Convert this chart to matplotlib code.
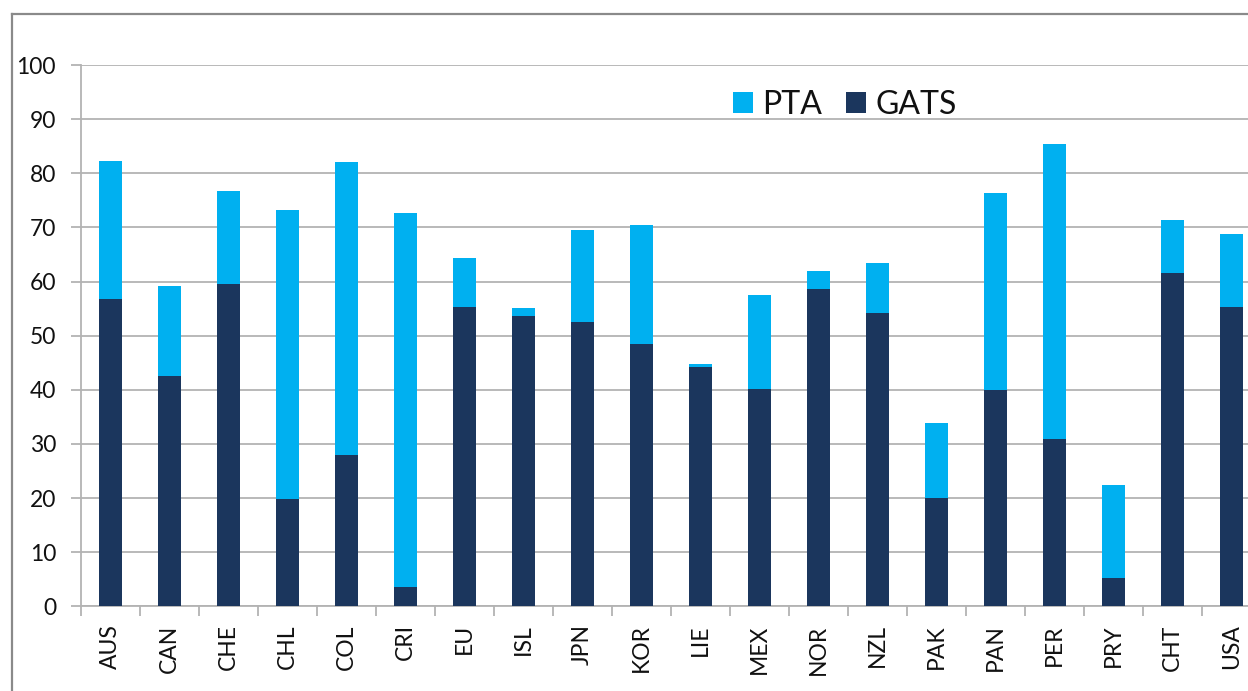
import matplotlib
matplotlib.use("Agg")
import matplotlib.pyplot as plt
from matplotlib.lines import Line2D
import numpy as np

countries = ["AUS", "CAN", "CHE", "CHL", "COL", "CRI", "EU", "ISL", "JPN", "KOR",
             "LIE", "MEX", "NOR", "NZL", "PAK", "PAN", "PER", "PRY", "CHT", "USA"]
gats = [56.8, 42.5, 59.6, 19.8, 27.9, 3.6, 55.3, 53.7, 52.5, 48.4,
        44.2, 40.1, 58.7, 54.1, 20.0, 39.9, 30.9, 5.3, 61.5, 55.3]
pta = [25.5, 16.6, 17.1, 53.5, 54.2, 69.0, 9.0, 1.4, 17.0, 22.1,
       0.5, 17.5, 3.2, 9.3, 13.9, 36.5, 54.5, 17.1, 9.9, 13.5]

plt.rcParams["font.family"] = ["Lato", "DejaVu Sans"]

W, H = 1248, 691
fig = plt.figure(figsize=(W / 100, H / 100), dpi=100)
# plot area runs past the right edge, as in the source image
ax = fig.add_axes([81 / W, (H - 606.3) / H, 1180 / W, 541.3 / H])

x = np.arange(len(countries))
grid_c = "#b3b3b3"
ax.bar(x, gats, width=0.385, color="#1b365d", label="GATS", zorder=3)
ax.bar(x, pta, width=0.385, bottom=gats, color="#00b0f0", label="PTA", zorder=3)

ax.set_xlim(-0.5, len(countries) - 0.5)
ax.set_ylim(0, 100)
ax.set_yticks(range(0, 101, 10))
ax.yaxis.grid(True, color=grid_c, linewidth=1.3, zorder=0)

for s in ["top", "right"]:
    ax.spines[s].set_visible(False)
for s in ["left", "bottom"]:
    ax.spines[s].set_color(grid_c)
    ax.spines[s].set_linewidth(1.3)

ax.tick_params(axis="y", length=7, width=1.3, color=grid_c, pad=11,
               labelsize=16.5, labelcolor="#111111")
ax.set_xticks(x)
ax.set_xticklabels(countries, rotation=90, va="top")
ax.set_xticks(np.arange(-0.5, len(countries), 1), minor=True)
ax.tick_params(axis="x", which="major", length=0, pad=13, labelsize=16.5,
               labelcolor="#111111")
ax.tick_params(axis="x", which="minor", length=7, width=1.3, color=grid_c)

handles, labels = ax.get_legend_handles_labels()
leg = ax.legend(handles[::-1], labels[::-1], ncol=2, loc="center left",
                bbox_to_anchor=(733 / W, (H - 105) / H),
                bbox_transform=fig.transFigure, frameon=False, fontsize=23,
                handlelength=0.62, handleheight=0.62, handletextpad=0.3,
                columnspacing=0.75, borderpad=0, borderaxespad=0)
for t in leg.get_texts():
    t.set_color("#111111")

# outer chart frame
fc = "#8a8a8a"
fig.add_artist(Line2D([11.5 / W, 11.5 / W], [0, (H - 14) / H], color=fc,
                      linewidth=1.6, transform=fig.transFigure))
fig.add_artist(Line2D([11.5 / W, 1], [(H - 14.3) / H, (H - 14.3) / H], color=fc,
                      linewidth=1.6, transform=fig.transFigure))

fig.savefig("out.png", dpi=100)
